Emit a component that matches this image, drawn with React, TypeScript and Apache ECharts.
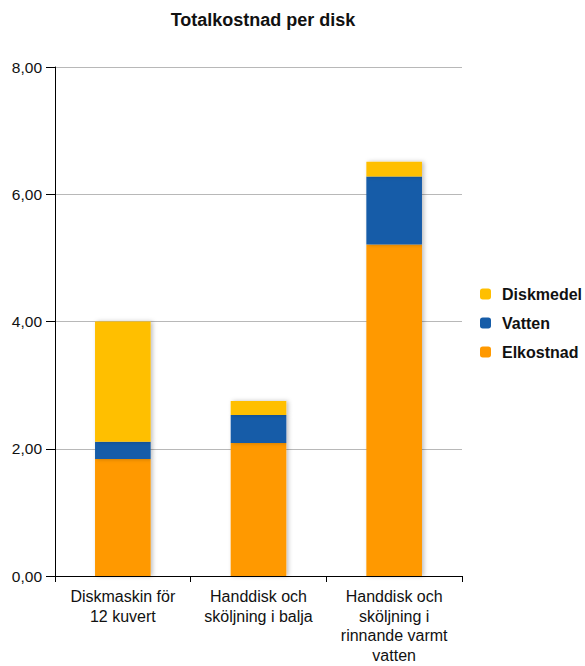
import React, { useEffect, useRef } from "react";
import * as echarts from "echarts";

const categories = [
  "Diskmaskin för\n12 kuvert",
  "Handdisk och\nsköljning i balja",
  "Handdisk och\nsköljning i\nrinnande varmt\nvatten",
];
const elkostnad = [1.84, 2.09, 5.21];
const vatten = [0.27, 0.44, 1.07];
const diskmedel = [1.89, 0.22, 0.23];
const legendOrder = ["Diskmedel", "Vatten", "Elkostnad"];

const font = "Liberation Sans, Arial, sans-serif";

export default function App() {
  const ref = useRef<HTMLDivElement>(null);
  useEffect(() => {
    if (!ref.current) return;
    const chart = echarts.init(ref.current, null, { renderer: "svg" });
    const shadow = {
      shadowBlur: 4,
      shadowColor: "rgba(0,0,0,0.25)",
      shadowOffsetX: 2,
      shadowOffsetY: 0,
    };
    chart.setOption({
      animation: false,
      backgroundColor: "#ffffff",
      title: {
        text: "Totalkostnad per disk",
        left: 258,
        textAlign: "center",
        top: 6,
        textStyle: { fontFamily: font, fontSize: 18, fontWeight: "bold", color: "#111" },
      },
      legend: {
        orient: "vertical",
        left: 475,
        top: 281,
        itemWidth: 11,
        itemHeight: 11,
        itemGap: 13,
        data: legendOrder,
        textStyle: {
          fontFamily: font,
          fontSize: 16,
          fontWeight: "bold",
          color: "#111",
          padding: [0, 0, 0, 6],
        },
      },
      grid: {
        left: 55,
        top: 67,
        right: 123,
        bottom: 90,
        containLabel: false,
        outerBoundsMode: "none",
      },
      xAxis: {
        type: "category",
        data: categories,
        axisLine: { lineStyle: { color: "#000", width: 1 } },
        axisTick: { show: true, length: 6, alignWithLabel: false, lineStyle: { color: "#000" } },
        axisLabel: {
          interval: 0,
          margin: 11,
          fontFamily: font,
          fontSize: 16,
          lineHeight: 19.5,
          color: "#111",
        },
      },
      yAxis: {
        type: "value",
        min: 0,
        max: 8,
        interval: 2,
        axisLine: { show: true, lineStyle: { color: "#000", width: 1 } },
        axisTick: { show: true, length: 9, lineStyle: { color: "#000" } },
        splitLine: { show: true, lineStyle: { color: "#b8b8b8", width: 1 } },
        axisLabel: {
          margin: 13,
          fontFamily: font,
          fontSize: 15.5,
          color: "#111",
          formatter: (v: number) => v.toFixed(2).replace(".", ","),
        },
      },
      series: [
        {
          name: "Elkostnad",
          type: "bar",
          stack: "total",
          barWidth: "41%",
          data: elkostnad,
          itemStyle: { color: "#ff9900", ...shadow },
        },
        {
          name: "Vatten",
          type: "bar",
          stack: "total",
          barWidth: "41%",
          data: vatten,
          itemStyle: { color: "#165ca8", ...shadow },
        },
        {
          name: "Diskmedel",
          type: "bar",
          stack: "total",
          barWidth: "41%",
          data: diskmedel,
          itemStyle: { color: "#ffbf00", ...shadow },
        },
      ],
    });
    return () => chart.dispose();
  }, []);
  return (
    <div
      ref={ref}
      style={{ position: "absolute", left: 0, top: 0, width: 585, height: 666 }}
    />
  );
}
